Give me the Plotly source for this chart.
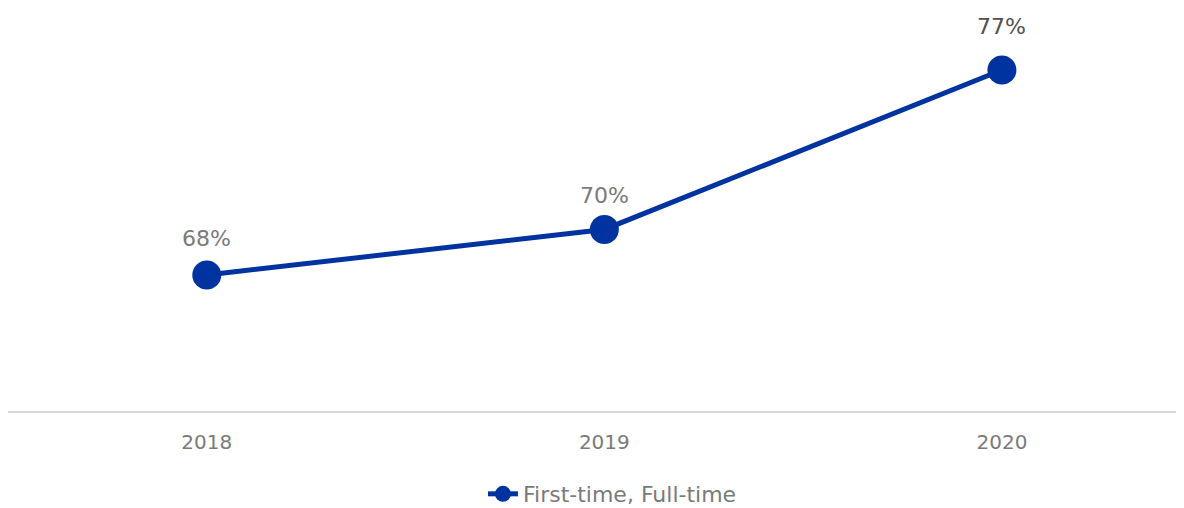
import plotly.graph_objects as go

years = ['2018', '2019', '2020']
rates = [68, 70, 77]
labels = ['68%', '70%', '77%']

# label styling per point (colour, vertical offset in px)
label_colors = ['#7a7a7a', '#7a7a7a', '#505050']
label_shift = [37, 34, 43]

fig = go.Figure()

fig.add_trace(
    go.Scatter(
        x=years,
        y=rates,
        mode='lines+markers',
        name='First-time, Full-time',
        line=dict(color='#0033a0', width=5),
        marker=dict(color='#0033a0', size=29),
        cliponaxis=False
    )
)

# category index is used for x, year strings look numeric to annotations
for i, rate in enumerate(rates):
    fig.add_annotation(
        x=i,
        y=rate,
        xref='x',
        yref='y',
        text=labels[i],
        showarrow=False,
        yanchor='middle',
        yshift=label_shift[i],
        font=dict(family='DejaVu Sans', size=22, color=label_colors[i])
    )

# page body has an 8px margin, so the figure is drawn at (8, 8) on screen;
# size it so the page does not overflow the window
fig.update_layout(
    width=1176,
    height=500,
    margin=dict(l=0, r=0, t=0, b=97, autoexpand=False),
    paper_bgcolor='white',
    plot_bgcolor='white',
    font=dict(family='DejaVu Sans', size=20, color='#7a7a7a'),
    showlegend=True,
    legend=dict(
        orientation='h',
        x=0.514,
        xanchor='center',
        y=-0.206,
        yanchor='middle',
        font=dict(size=22, color='#7a7a7a')
    ),
    xaxis=dict(
        type='category',
        range=[-0.5, 2.458],
        showgrid=False,
        showline=True,
        linecolor='#d9d9d9',
        linewidth=2,
        ticks='',
        ticklabelstandoff=12,
        tickfont=dict(size=20, color='#7a7a7a')
    ),
    yaxis=dict(
        range=[62.03, 79.72],
        visible=False,
        showgrid=False,
        zeroline=False
    )
)

fig.write_html('out.html')
